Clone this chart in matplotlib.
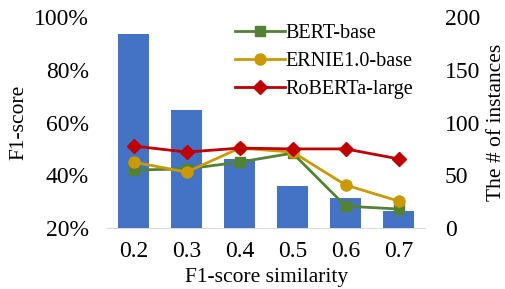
import numpy as np
import matplotlib.pyplot as plt

# data
similarity = ["0.2", "0.3", "0.4", "0.5", "0.6", "0.7"]
instances = [184, 112, 65, 40, 28, 16]
bert_base = [42.0, 42.4, 45.0, 48.4, 28.3, 27.2]
ernie_base = [45.0, 41.2, 50.3, 48.8, 36.3, 30.2]
roberta_large = [51.1, 48.8, 50.3, 50.0, 50.0, 46.2]

plt.rcParams["font.family"] = ["Liberation Serif", "DejaVu Serif"]

fig = plt.figure(figsize=(5.05, 2.89), dpi=100)
ax = fig.add_axes([0.212, 0.211, 0.63, 0.73])
ax2 = ax.twinx()
x = np.arange(len(similarity))

# bars on the right axis (drawn below lines)
ax.bar(x, instances, width=0.58, color="#4472C4", zorder=2)
ax.set_ylim(0, 200)
ax.set_yticks([0, 50, 100, 150, 200])
ax.set_xlim(-0.5, 5.5)
ax.set_xticks(x)
ax.set_xticklabels(similarity)
ax.set_xlabel("F1-score similarity", fontsize=15.5, labelpad=5)
ax.tick_params(axis="both", length=0, labelsize=17)
ax.tick_params(axis="x", pad=9)

ax2.plot(x, bert_base, color="#548235", marker="s", markersize=7, lw=2, label="BERT-base")
ax2.plot(x, ernie_base, color="#C99A06", marker="o", markersize=8, lw=2, label="ERNIE1.0-base")
ax2.plot(x, roberta_large, color="#C00000", marker="D", markersize=7, lw=2, label="RoBERTa-large")
ax2.set_ylim(20, 100)
ax2.set_yticks([20, 40, 60, 80, 100])
ax2.set_yticklabels(["20%", "40%", "60%", "80%", "100%"])
ax2.tick_params(axis="both", length=0, labelsize=17)

# percent axis on the left, instance counts on the right
ax.yaxis.tick_right()
ax.yaxis.set_label_position("right")
ax.set_ylabel("The # of instances", fontsize=15.5, labelpad=5)
ax.tick_params(axis="y", pad=14)
ax2.yaxis.tick_left()
ax2.yaxis.set_label_position("left")
ax2.set_ylabel("F1-score", fontsize=15.5, labelpad=4)
ax2.tick_params(axis="y", pad=13)

for a in (ax, ax2):
    for s in a.spines.values():
        s.set_visible(False)
ax.spines["bottom"].set_visible(True)
ax.spines["bottom"].set_color("#D9D9D9")
ax.spines["bottom"].set_zorder(1)

ax2.legend(loc="upper right", bbox_to_anchor=(1.0, 1.025), frameon=False, fontsize=14.5,
           handlelength=2.5, handletextpad=0.0, labelspacing=0.45, borderaxespad=0.2)

fig.savefig("out.png", dpi=100)
